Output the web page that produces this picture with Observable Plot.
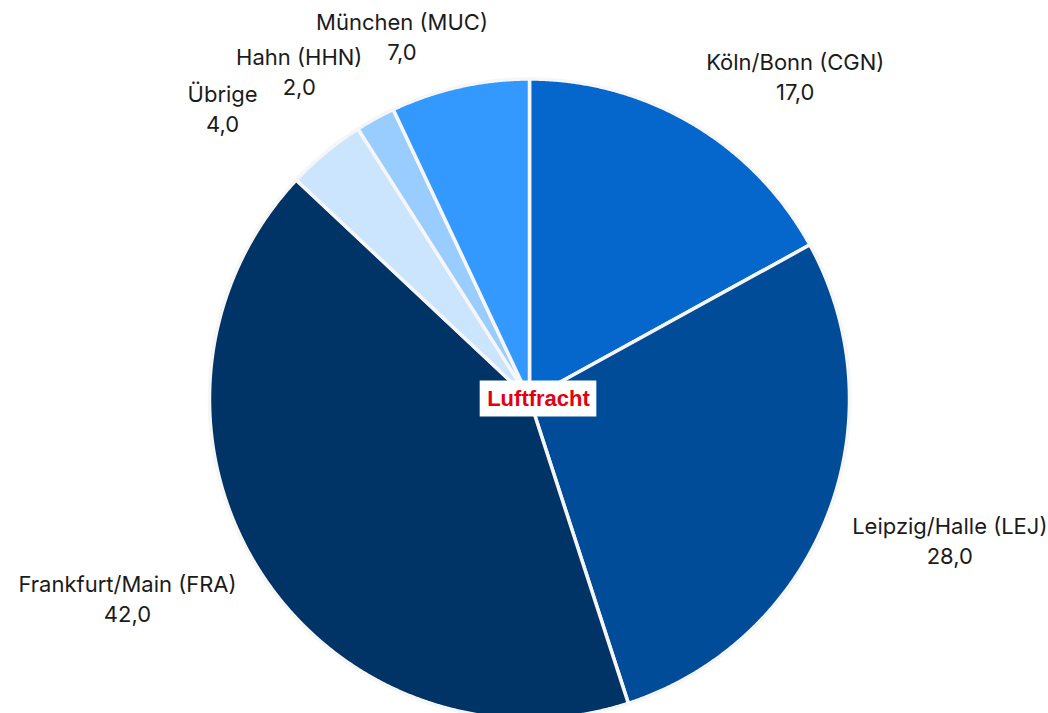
<!DOCTYPE html>
<html><head><meta charset="utf-8">
<script src="https://cdn.jsdelivr.net/npm/d3@7"></script>
<script src="https://cdn.jsdelivr.net/npm/@observablehq/plot@0.6"></script>
<style>body{margin:0;background:#fff;} #chart svg{display:block}</style>
</head><body><div id="chart"></div>
<script>
// ---- data ----
const airports = ["Köln/Bonn (CGN)", "Leipzig/Halle (LEJ)", "Frankfurt/Main (FRA)", "Übrige", "Hahn (HHN)", "München (MUC)"];
const shares = [17, 28, 42, 4, 2, 7];
const sliceColors = ["#0566CC", "#004C99", "#003366", "#CCE5FF", "#99CCFF", "#3399FF"];
const centerLabel = "Luftfracht";

// ---- layout ----
const W = 1048, H = 713;
const cx = 529, cy = 398.5, r = 320;
const fmt = d3.formatLocale({decimal: ",", thousands: "."}).format(".1f");
const FONT = "Inter, 'Noto Sans', sans-serif";
const FS = 22;

const pie = d3.pie().sort(null).value(d => d)(shares);

// slice outlines in unit-radius coordinates (angle from top, clockwise)
const slicePts = [];
pie.forEach((p, i) => {
  slicePts.push({name: airports[i], x: 0, y: 0});
  const n = Math.max(4, Math.ceil((p.endAngle - p.startAngle) / 0.004));
  for (let k = 0; k <= n; k++) {
    const a = p.startAngle + (p.endAngle - p.startAngle) * k / n;
    slicePts.push({name: airports[i], x: Math.sin(a), y: Math.cos(a)});
  }
});

// label measurement
const ctx = document.createElement("canvas").getContext("2d");
ctx.font = FS + "px Inter";
const measure = s => ctx.measureText(s).width;
const LH = 30, CAP = 16, DESC = 4;
const R = r + 27;
const labels = pie.map((p, i) => {
  const a = (p.startAngle + p.endAngle) / 2;
  const s = Math.sin(a), c = Math.cos(a);
  const px = cx + R * s, py = cy - R * c;
  const lines = [airports[i], fmt(shares[i])];
  const ws = lines.map(measure);
  const w = Math.max(...ws);
  const xc = s >= 0 ? px + w / 2 : px - w / 2;
  const b2 = c > 0 ? py : py + 7 + LH;
  return {value: shares[i], xc, b2, ws, text: lines.join("\n")};
});
// simple horizontal collision avoidance, smallest slices keep their place
const placed = [];
const pad = 25;
for (const L of labels.slice().sort((a, b) => a.value - b.value)) {
  for (let iter = 0; iter < 20; iter++) {
    let moved = false;
    for (const P of placed) {
      for (let j = 0; j < 2; j++) for (let k = 0; k < 2; k++) {
        const bj = L.b2 - LH * (1 - j), bk = P.b2 - LH * (1 - k);
        if (bj - CAP >= bk + DESC || bk - CAP >= bj + DESC) continue;
        const l1 = L.xc - L.ws[j] / 2, r1 = L.xc + L.ws[j] / 2;
        const l2 = P.xc - P.ws[k] / 2, r2 = P.xc + P.ws[k] / 2;
        if (L.xc >= P.xc) { if (l1 < r2 + pad) { L.xc += r2 + pad - l1; moved = true; } }
        else { if (r1 > l2 - pad) { L.xc -= r1 - (l2 - pad); moved = true; } }
      }
    }
    if (!moved) break;
  }
  placed.push(L);
}
labels.forEach(L => { L.x = (L.xc - cx) / r; L.y = (cy - L.b2) / r; });

// center label box
ctx.font = "bold 22px 'Liberation Sans'";
const cw = ctx.measureText(centerLabel).width;
const cdx = 9;
const centerBox = [{
  x1: (cdx - cw / 2 - 7) / r, x2: (cdx + cw / 2 + 7) / r,
  y1: -18 / r, y2: 18 / r
}];

const chart = Plot.plot({
  width: W, height: H, margin: 0,
  x: {domain: [-1, 1], range: [cx - r, cx + r], axis: null},
  y: {domain: [-1, 1], range: [cy + r, cy - r], axis: null},
  color: {domain: airports, range: sliceColors},
  style: {fontFamily: FONT, background: "#fff"},
  marks: [
    Plot.line(slicePts, {x: "x", y: "y", z: "name", fill: "name", stroke: "#f6f6f6", strokeWidth: 3.5, curve: "linear-closed"}),
    Plot.text(labels, {x: "x", y: "y", text: "text", lineAnchor: "bottom", lineHeight: LH / FS, textAnchor: "middle", fontSize: FS, fontFamily: FONT, fill: "#1b1b1b"}),
    Plot.rect(centerBox, {x1: "x1", x2: "x2", y1: "y1", y2: "y2", fill: "white"}),
    Plot.text([centerLabel], {x: 0, y: 0, dx: cdx, text: d => d, fontSize: 22, fontWeight: "bold", fontFamily: "'Liberation Sans', Arial, sans-serif", fill: "#e3000f", lineAnchor: "middle"})
  ]
});
document.getElementById("chart").append(chart);
</script>
</body></html>
